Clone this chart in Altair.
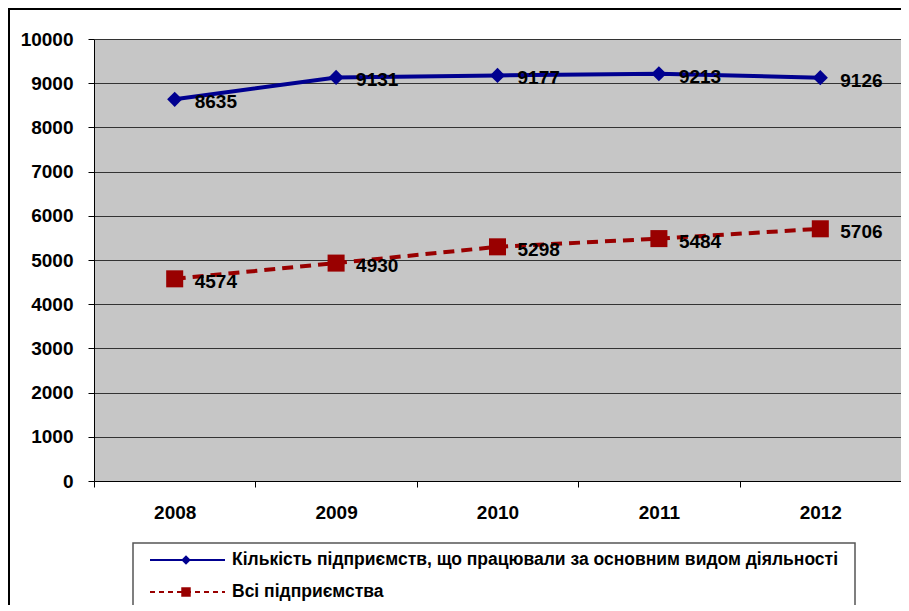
import altair as alt
import pandas as pd

years = ["2008", "2009", "2010", "2011", "2012"]
series_main = "Кількість підприємств, що працювали за основним видом діяльності"
series_all = "Всі підприємства"
main_values = [8635, 9131, 9177, 9213, 9126]
all_values = [4574, 4930, 5298, 5484, 5706]
y_ticks = [0, 1000, 2000, 3000, 4000, 5000, 6000, 7000, 8000, 9000, 10000]

FONT = "Liberation Sans"
BLUE = "#000090"
RED = "#990000"

main_df = pd.DataFrame({"year": years, "value": main_values})
all_df = pd.DataFrame({"year": years, "value": all_values})
one = pd.DataFrame({"k": [0]})

x_enc = alt.X(
    "year:N",
    scale=alt.Scale(domain=years, paddingInner=0, paddingOuter=0),
    axis=alt.Axis(
        title=None, labelAngle=0, tickBand="extent", grid=False,
        labelFont=FONT, labelFontSize=19, labelFontWeight="bold", labelColor="black",
        labelPadding=16, tickSize=6, tickColor="black", domainColor="black",
        domainWidth=1, tickWidth=1,
    ),
)
y_enc = alt.Y(
    "value:Q",
    scale=alt.Scale(domain=[0, 10000], nice=False),
    axis=alt.Axis(
        title=None, values=y_ticks, format="d", grid=True, gridColor="#333333",
        gridWidth=1, gridOpacity=1,
        labelFont=FONT, labelFontSize=19, labelFontWeight="bold", labelColor="black",
        labelPadding=15, tickSize=6, tickColor="black", domainColor="black",
        domainWidth=1, tickWidth=1,
    ),
)

main_line = alt.Chart(main_df).mark_line(color=BLUE, strokeWidth=4).encode(x=x_enc, y=y_enc)
main_pts = alt.Chart(main_df).mark_point(
    shape="diamond", filled=True, color=BLUE, size=230, opacity=1
).encode(x=x_enc, y=y_enc)
main_txt = alt.Chart(main_df).mark_text(
    align="left", baseline="middle", dx=20, dy=3, font=FONT, fontSize=19,
    fontWeight="bold", color="black"
).encode(x=x_enc, y=y_enc, text=alt.Text("value:Q", format="d"))

all_line = alt.Chart(all_df).mark_line(
    color=RED, strokeWidth=4, strokeDash=[11, 7]
).encode(x=x_enc, y=y_enc)
all_pts = alt.Chart(all_df).mark_point(
    shape="square", filled=True, color=RED, size=290, opacity=1
).encode(x=x_enc, y=y_enc)
all_txt = alt.Chart(all_df).mark_text(
    align="left", baseline="middle", dx=20, dy=3, font=FONT, fontSize=19,
    fontWeight="bold", color="black"
).encode(x=x_enc, y=y_enc, text=alt.Text("value:Q", format="d"))

# outer frame
frame_top = alt.Chart(one).mark_rule(color="black", strokeWidth=2).encode(
    x=alt.value(-86), x2=alt.value(807), y=alt.value(-30)
)
frame_left = alt.Chart(one).mark_rule(color="black", strokeWidth=2).encode(
    x=alt.value(-85), y=alt.value(-31), y2=alt.value(570)
)

# legend
leg_box = alt.Chart(one).mark_rect(fill="white", stroke="#555555", strokeWidth=1.5).encode(
    x=alt.value(39), x2=alt.value(761), y=alt.value(504), y2=alt.value(600)
)
leg_l1 = alt.Chart(one).mark_rule(color=BLUE, strokeWidth=2).encode(
    x=alt.value(56), x2=alt.value(131), y=alt.value(521)
)
leg_p1 = alt.Chart(one).mark_point(shape="diamond", filled=True, color=BLUE, size=90, opacity=1).encode(
    x=alt.value(92), y=alt.value(521)
)
leg_t1 = alt.Chart(pd.DataFrame({"t": [series_main]})).mark_text(
    align="left", baseline="middle", font=FONT, fontSize=17.5, fontWeight="bold", color="black"
).encode(x=alt.value(138), y=alt.value(521), text="t:N")
leg_l2 = alt.Chart(one).mark_rule(color=RED, strokeWidth=2, strokeDash=[5, 4]).encode(
    x=alt.value(56), x2=alt.value(131), y=alt.value(553)
)
leg_p2 = alt.Chart(one).mark_point(shape="square", filled=True, color=RED, size=90, opacity=1).encode(
    x=alt.value(92), y=alt.value(553)
)
leg_t2 = alt.Chart(pd.DataFrame({"t": [series_all]})).mark_text(
    align="left", baseline="middle", font=FONT, fontSize=17.5, fontWeight="bold", color="black"
).encode(x=alt.value(138), y=alt.value(553), text="t:N")

chart = alt.layer(
    main_line, all_line, main_pts, all_pts, main_txt, all_txt,
    frame_top, frame_left, leg_box, leg_l1, leg_p1, leg_t1, leg_l2, leg_p2, leg_t2,
).properties(
    width=807, height=442,
    autosize=alt.AutoSizeParams(type="none"),
    padding={"left": 86, "top": 31, "right": 0, "bottom": 124},
    background="white",
).configure_view(fill="#c6c6c6", stroke="transparent")

chart.save("out.html", embed_options={"renderer": "svg", "actions": False})
